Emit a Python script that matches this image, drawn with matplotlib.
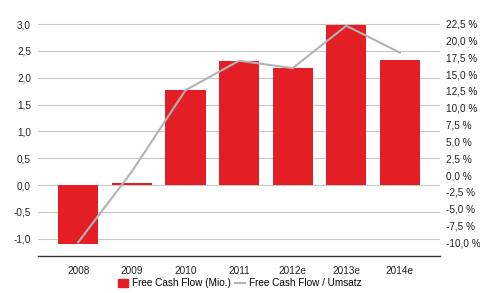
import matplotlib
matplotlib.use("Agg")
import matplotlib.pyplot as plt
from matplotlib.ticker import FuncFormatter, MultipleLocator
from matplotlib.patches import Patch
from matplotlib.lines import Line2D

plt.rcParams["font.family"] = ["Liberation Sans", "DejaVu Sans"]

years = ["2008", "2009", "2010", "2011", "2012e", "2013e", "2014e"]
fcf = [-1.10, 0.03, 1.77, 2.31, 2.18, 2.98, 2.34]          # Mio.
fcf_ratio = [-10.0, 0.5, 12.6, 17.0, 15.9, 22.2, 18.2]     # % vom Umsatz

red = "#e31e24"
gray_line = "#b3b3b3"
fs = 7.2

fig = plt.figure(figsize=(4.8, 2.93), dpi=100)
ax = fig.add_axes([0.079, 0.126, 0.838, 0.84])
x = range(len(years))

ax.bar(x, fcf, width=0.75, color=red, zorder=2)
ax.set_xlim(-0.75, 6.75)
ax.set_ylim(-1.325, 3.265)
ax.yaxis.set_major_locator(MultipleLocator(0.5))
ax.yaxis.set_major_formatter(FuncFormatter(lambda v, p: f"{v:.1f}".replace(".", ",")))
ax.grid(axis="y", color="#c8c8c8", linewidth=0.8, zorder=0)
ax.set_xticks(list(x))
ax.set_xticklabels(years)
for s in ["top", "right", "left"]:
    ax.spines[s].set_visible(False)
ax.spines["bottom"].set_color("#333333")
ax.spines["bottom"].set_linewidth(1.0)
ax.tick_params(length=0, labelsize=fs, colors="#222222")
ax.tick_params(axis="x", pad=7)
ax.tick_params(axis="y", pad=5)

ax2 = ax.twinx()
ax2.plot(x, fcf_ratio, color=gray_line, linewidth=1.5, zorder=3)
ax2.set_ylim(-12.05, 24.55)
ax2.set_yticks([v * 2.5 for v in range(-4, 10)])
ax2.yaxis.set_major_formatter(FuncFormatter(lambda v, p: f"{v:.1f} %".replace(".", ",")))
for s in ["top", "right", "left", "bottom"]:
    ax2.spines[s].set_visible(False)
ax2.tick_params(length=0, labelsize=fs, colors="#222222", pad=4)

handles = [Patch(color=red, label="Free Cash Flow (Mio.)"),
           Line2D([], [], color=gray_line, linewidth=1.5, label="Free Cash Flow / Umsatz")]
fig.legend(handles=handles, loc="lower center", bbox_to_anchor=(0.5, -0.015), ncol=2,
           frameon=False, fontsize=fs, handlelength=1.0, handleheight=0.8,
           columnspacing=0.4, handletextpad=0.4)

fig.savefig("out.png", dpi=100)
